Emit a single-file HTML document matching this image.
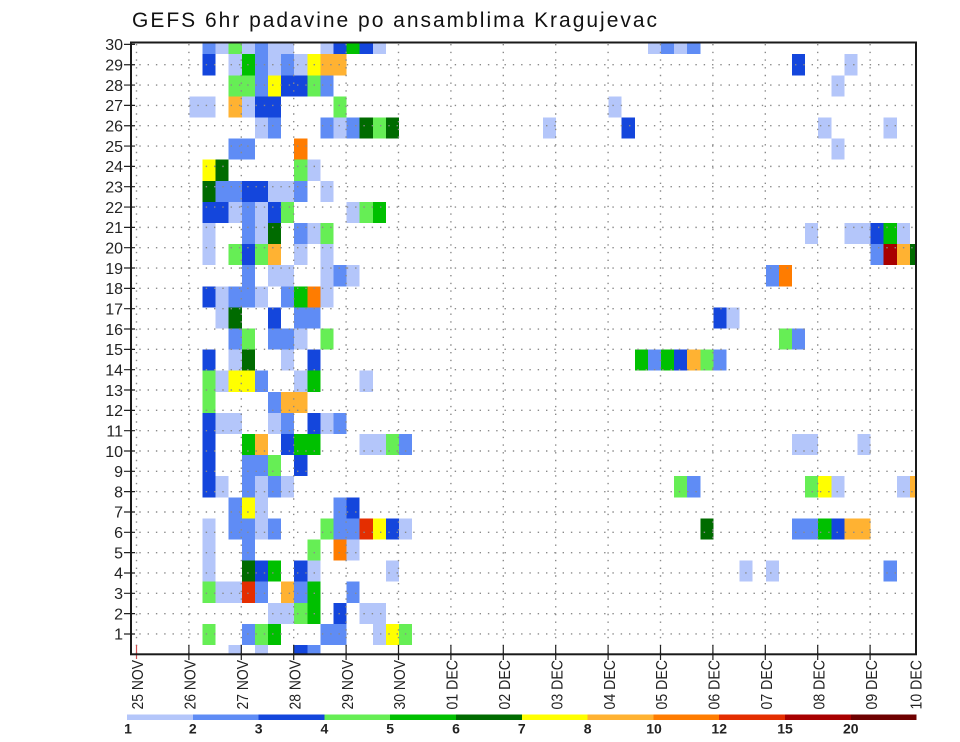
<!DOCTYPE html>
<html>
<head>
<meta charset="utf-8">
<style>
html,body{margin:0;padding:0;background:#fff;}
svg{display:block;font-family:"Liberation Sans",sans-serif;}
.a{fill:#b4c6fa}.b{fill:#5f8cf5}.c{fill:#1446dc}.d{fill:#66ee55}.e{fill:#00c000}.f{fill:#006b00}
.g{fill:#ffff00}.h{fill:#ffb232}.i{fill:#ff7c00}.k{fill:#e42e00}.l{fill:#a80000}.m{fill:#6e0000}
.xl{font-size:16px;fill:#222}
.yl{font-size:16px;fill:#222}
.cl{font-size:14px;font-weight:bold;fill:#222}
</style>
</head>
<body>
<svg width="960" height="742" viewBox="0 0 960 742" xmlns="http://www.w3.org/2000/svg">
<defs>
<clipPath id="plot" clipPathUnits="userSpaceOnUse"><rect x="131" y="42.5" width="785" height="611.8"/></clipPath>
</defs>

<text x="132" y="27" font-size="21" fill="#111" textLength="525" lengthAdjust="spacing">GEFS 6hr padavine po ansamblima Kragujevac</text>

<g clip-path="url(#plot)">
<g transform="translate(137,33.05) scale(13.1,21.1)" shape-rendering="crispEdges">
<path class="a" d="M6 0h1v1h-1zM8 0h1v1h-1zM10 0h1v1h-1zM11 0h1v1h-1zM14 0h1v1h-1zM18 0h1v1h-1zM39 0h1v1h-1zM41 0h1v1h-1z
M7 1h1v1h-1zM10 1h1v1h-1zM12 1h1v1h-1zM54 1h1v1h-1z
M53 2h1v1h-1z
M4 3h1v1h-1zM5 3h1v1h-1zM8 3h1v1h-1zM36 3h1v1h-1z
M9 4h1v1h-1zM15 4h1v1h-1zM31 4h1v1h-1zM52 4h1v1h-1zM57 4h1v1h-1z
M53 5h1v1h-1z
M13 6h1v1h-1z
M10 7h1v1h-1zM11 7h1v1h-1zM14 7h1v1h-1z
M7 8h1v1h-1zM9 8h1v1h-1zM16 8h1v1h-1z
M5 9h1v1h-1zM9 9h1v1h-1zM13 9h1v1h-1zM51 9h1v1h-1zM54 9h1v1h-1zM55 9h1v1h-1zM58 9h1v1h-1z
M5 10h1v1h-1zM12 10h1v1h-1zM14 10h1v1h-1z
M10 11h1v1h-1zM11 11h1v1h-1zM14 11h1v1h-1zM16 11h1v1h-1z
M6 12h1v1h-1zM9 12h1v1h-1zM14 12h1v1h-1z
M6 13h1v1h-1zM45 13h1v1h-1z
M12 14h1v1h-1z
M7 15h1v1h-1zM11 15h1v1h-1z
M6 16h1v1h-1zM12 16h1v1h-1zM17 16h1v1h-1z
M6 18h1v1h-1zM7 18h1v1h-1zM10 18h1v1h-1zM14 18h1v1h-1z
M17 19h1v1h-1zM18 19h1v1h-1zM50 19h1v1h-1zM51 19h1v1h-1zM55 19h1v1h-1z
M6 21h1v1h-1zM9 21h1v1h-1zM11 21h1v1h-1zM53 21h1v1h-1zM58 21h1v1h-1z
M9 22h1v1h-1z
M5 23h1v1h-1zM9 23h1v1h-1zM20 23h1v1h-1z
M5 24h1v1h-1zM16 24h1v1h-1z
M5 25h1v1h-1zM13 25h1v1h-1zM19 25h1v1h-1zM46 25h1v1h-1zM48 25h1v1h-1z
M6 26h1v1h-1zM7 26h1v1h-1z
M10 27h1v1h-1zM11 27h1v1h-1zM17 27h1v1h-1zM18 27h1v1h-1z
M18 28h1v1h-1z
M7 29h1v1h-1zM9 29h1v1h-1z"/>
<path class="b" d="M5 0h1v1h-1zM9 0h1v1h-1zM40 0h1v1h-1zM42 0h1v1h-1z
M9 1h1v1h-1zM11 1h1v1h-1z
M9 2h1v1h-1zM14 2h1v1h-1z
M10 4h1v1h-1zM14 4h1v1h-1zM16 4h1v1h-1z
M7 5h1v1h-1zM8 5h1v1h-1z
M6 7h1v1h-1zM7 7h1v1h-1zM12 7h1v1h-1z
M8 8h1v1h-1z
M8 9h1v1h-1zM12 9h1v1h-1z
M56 10h1v1h-1z
M8 11h1v1h-1zM15 11h1v1h-1zM48 11h1v1h-1z
M7 12h1v1h-1zM8 12h1v1h-1zM11 12h1v1h-1z
M12 13h1v1h-1zM13 13h1v1h-1z
M7 14h1v1h-1zM10 14h1v1h-1zM11 14h1v1h-1zM50 14h1v1h-1z
M39 15h1v1h-1zM44 15h1v1h-1z
M9 16h1v1h-1z
M10 17h1v1h-1z
M11 18h1v1h-1zM15 18h1v1h-1z
M20 19h1v1h-1z
M8 20h1v1h-1zM9 20h1v1h-1z
M8 21h1v1h-1zM10 21h1v1h-1zM42 21h1v1h-1z
M7 22h1v1h-1zM15 22h1v1h-1z
M7 23h1v1h-1zM8 23h1v1h-1zM10 23h1v1h-1zM15 23h1v1h-1zM16 23h1v1h-1zM50 23h1v1h-1zM51 23h1v1h-1z
M8 24h1v1h-1z
M57 25h1v1h-1z
M9 26h1v1h-1zM12 26h1v1h-1zM16 26h1v1h-1z
M8 28h1v1h-1zM14 28h1v1h-1zM15 28h1v1h-1z
M13 29h1v1h-1z"/>
<path class="c" d="M15 0h1v1h-1zM17 0h1v1h-1z
M5 1h1v1h-1zM50 1h1v1h-1z
M11 2h1v1h-1zM12 2h1v1h-1z
M9 3h1v1h-1zM10 3h1v1h-1z
M37 4h1v1h-1z
M8 7h1v1h-1zM9 7h1v1h-1z
M5 8h1v1h-1zM6 8h1v1h-1zM10 8h1v1h-1z
M56 9h1v1h-1z
M8 10h1v1h-1z
M5 12h1v1h-1z
M10 13h1v1h-1zM44 13h1v1h-1z
M5 15h1v1h-1zM13 15h1v1h-1zM41 15h1v1h-1z
M5 18h1v1h-1zM13 18h1v1h-1z
M5 19h1v1h-1zM11 19h1v1h-1z
M5 20h1v1h-1zM12 20h1v1h-1z
M5 21h1v1h-1z
M16 22h1v1h-1z
M19 23h1v1h-1zM53 23h1v1h-1z
M9 25h1v1h-1zM12 25h1v1h-1z
M15 27h1v1h-1z
M12 29h1v1h-1z"/>
<path class="d" d="M7 0h1v1h-1z
M7 2h1v1h-1zM8 2h1v1h-1zM13 2h1v1h-1z
M15 3h1v1h-1z
M18 4h1v1h-1z
M12 6h1v1h-1z
M11 8h1v1h-1zM17 8h1v1h-1z
M14 9h1v1h-1z
M7 10h1v1h-1zM9 10h1v1h-1z
M8 14h1v1h-1zM14 14h1v1h-1zM49 14h1v1h-1z
M43 15h1v1h-1z
M5 16h1v1h-1z
M5 17h1v1h-1z
M19 19h1v1h-1z
M10 20h1v1h-1z
M41 21h1v1h-1zM51 21h1v1h-1z
M14 23h1v1h-1z
M13 24h1v1h-1z
M5 26h1v1h-1z
M12 27h1v1h-1z
M5 28h1v1h-1zM9 28h1v1h-1zM20 28h1v1h-1z"/>
<path class="e" d="M16 0h1v1h-1zM8 1h1v1h-1zM18 8h1v1h-1zM57 9h1v1h-1zM12 12h1v1h-1zM38 15h1v1h-1zM40 15h1v1h-1zM13 16h1v1h-1z
M8 19h1v1h-1zM12 19h1v1h-1zM13 19h1v1h-1zM52 23h1v1h-1zM10 25h1v1h-1zM13 26h1v1h-1zM13 27h1v1h-1zM10 28h1v1h-1z"/>
<path class="f" d="M17 4h1v1h-1zM19 4h1v1h-1zM6 6h1v1h-1zM5 7h1v1h-1zM10 9h1v1h-1zM59 10h1v1h-1zM7 13h1v1h-1zM8 15h1v1h-1zM43 23h1v1h-1zM8 25h1v1h-1z"/>
<path class="g" d="M13 1h1v1h-1zM10 2h1v1h-1zM5 6h1v1h-1zM7 16h1v1h-1zM8 16h1v1h-1zM52 21h1v1h-1zM8 22h1v1h-1zM18 23h1v1h-1zM19 28h1v1h-1z"/>
<path class="h" d="M14 1h1v1h-1zM15 1h1v1h-1zM7 3h1v1h-1zM10 10h1v1h-1zM58 10h1v1h-1zM42 15h1v1h-1zM11 17h1v1h-1zM12 17h1v1h-1zM9 19h1v1h-1zM59 21h1v1h-1zM54 23h1v1h-1zM55 23h1v1h-1zM11 26h1v1h-1z"/>
<path class="i" d="M12 5h1v1h-1zM49 11h1v1h-1zM13 12h1v1h-1zM15 24h1v1h-1z"/>
<path class="k" d="M17 23h1v1h-1zM8 26h1v1h-1z"/>
<path class="l" d="M57 10h1v1h-1z"/>
</g>
</g>

<!-- dotted grid -->
<g stroke="#8a8a8a" stroke-width="1.4" stroke-dasharray="1.4 6.9" fill="none">
<path d="M131 633.97H916M131 613.64H916M131 593.31H916M131 572.98H916M131 552.65H916M131 532.32H916M131 511.99H916M131 491.66H916M131 471.33H916M131 451H916M131 430.67H916M131 410.34H916M131 390.01H916M131 369.68H916M131 349.35H916M131 329.02H916M131 308.69H916M131 288.36H916M131 268.03H916M131 247.7H916M131 227.37H916M131 207.04H916M131 186.71H916M131 166.38H916M131 146.05H916M131 125.72H916M131 105.39H916M131 85.06H916M131 64.73H916"/>
</g>
<g stroke="#8a8a8a" stroke-width="1.4" stroke-dasharray="1.4 6.3" fill="none">
<path d="M136.5 44V654M188.9 44V654M241.3 44V654M293.7 44V654M346.1 44V654M398.5 44V654M450.9 44V654M503.3 44V654M555.7 44V654M608.1 44V654M660.5 44V654M712.9 44V654M765.3 44V654M817.7 44V654M870.1 44V654"/>
</g>

<!-- y ticks -->
<path stroke="#222" stroke-width="1.2" fill="none" d="M124 633.97H135M124 613.64H135M124 593.31H135M124 572.98H135M124 552.65H135M124 532.32H135M124 511.99H135M124 491.66H135M124 471.33H135M124 451H135M124 430.67H135M124 410.34H135M124 390.01H135M124 369.68H135M124 349.35H135M124 329.02H135M124 308.69H135M124 288.36H135M124 268.03H135M124 247.7H135M124 227.37H135M124 207.04H135M124 186.71H135M124 166.38H135M124 146.05H135M124 125.72H135M124 105.39H135M124 85.06H135M124 64.73H135M124 44.4H135"/>

<!-- x ticks -->
<path stroke="#222" stroke-width="1.2" fill="none" d="M188.9 645V660M241.3 645V660M293.7 645V660M346.1 645V660M398.5 645V660M450.9 645V660M503.3 645V660M555.7 645V660M608.1 645V660M660.5 645V660M712.9 645V660M765.3 645V660M817.7 645V660M870.1 645V660"/>
<path stroke="#d05050" stroke-width="1.2" fill="none" d="M136.5 645V659"/>

<!-- border -->
<rect x="131" y="42.5" width="785" height="611.8" fill="none" stroke="#1a1a1a" stroke-width="2"/>

<!-- y labels -->
<g class="yl" text-anchor="end">
<text x="123" y="639.7">1</text><text x="123" y="619.4">2</text><text x="123" y="599.1">3</text><text x="123" y="578.7">4</text><text x="123" y="558.4">5</text>
<text x="123" y="538.1">6</text><text x="123" y="517.7">7</text><text x="123" y="497.4">8</text><text x="123" y="477.1">9</text><text x="123" y="456.8">10</text>
<text x="123" y="436.4">11</text><text x="123" y="416.1">12</text><text x="123" y="395.8">13</text><text x="123" y="375.4">14</text><text x="123" y="355.1">15</text>
<text x="123" y="334.8">16</text><text x="123" y="314.4">17</text><text x="123" y="294.1">18</text><text x="123" y="273.8">19</text><text x="123" y="253.5">20</text>
<text x="123" y="233.1">21</text><text x="123" y="212.8">22</text><text x="123" y="192.5">23</text><text x="123" y="172.1">24</text><text x="123" y="151.8">25</text>
<text x="123" y="131.5">26</text><text x="123" y="111.1">27</text><text x="123" y="90.8">28</text><text x="123" y="70.5">29</text><text x="123" y="50.2">30</text>
</g>

<!-- x labels (rotated) -->
<g class="xl">
<text transform="translate(143.2,709.5) rotate(-90)" textLength="49.5" lengthAdjust="spacingAndGlyphs">25 NOV</text>
<text transform="translate(195.6,709.5) rotate(-90)" textLength="49.5" lengthAdjust="spacingAndGlyphs">26 NOV</text>
<text transform="translate(248,709.5) rotate(-90)" textLength="49.5" lengthAdjust="spacingAndGlyphs">27 NOV</text>
<text transform="translate(300.4,709.5) rotate(-90)" textLength="49.5" lengthAdjust="spacingAndGlyphs">28 NOV</text>
<text transform="translate(352.8,709.5) rotate(-90)" textLength="49.5" lengthAdjust="spacingAndGlyphs">29 NOV</text>
<text transform="translate(405.2,709.5) rotate(-90)" textLength="49.5" lengthAdjust="spacingAndGlyphs">30 NOV</text>
<text transform="translate(457.6,709.5) rotate(-90)" textLength="49.5" lengthAdjust="spacingAndGlyphs">01 DEC</text>
<text transform="translate(510,709.5) rotate(-90)" textLength="49.5" lengthAdjust="spacingAndGlyphs">02 DEC</text>
<text transform="translate(562.4,709.5) rotate(-90)" textLength="49.5" lengthAdjust="spacingAndGlyphs">03 DEC</text>
<text transform="translate(614.8,709.5) rotate(-90)" textLength="49.5" lengthAdjust="spacingAndGlyphs">04 DEC</text>
<text transform="translate(667.2,709.5) rotate(-90)" textLength="49.5" lengthAdjust="spacingAndGlyphs">05 DEC</text>
<text transform="translate(719.6,709.5) rotate(-90)" textLength="49.5" lengthAdjust="spacingAndGlyphs">06 DEC</text>
<text transform="translate(772,709.5) rotate(-90)" textLength="49.5" lengthAdjust="spacingAndGlyphs">07 DEC</text>
<text transform="translate(824.4,709.5) rotate(-90)" textLength="49.5" lengthAdjust="spacingAndGlyphs">08 DEC</text>
<text transform="translate(876.8,709.5) rotate(-90)" textLength="49.5" lengthAdjust="spacingAndGlyphs">09 DEC</text>
<text transform="translate(921.5,709.5) rotate(-90)" textLength="49.5" lengthAdjust="spacingAndGlyphs">10 DEC</text>
</g>

<!-- colorbar -->
<g transform="translate(127,714.3) scale(65.8,5.7)" shape-rendering="crispEdges">
<rect class="a" x="0" y="0" width="1.01" height="1"/>
<rect class="b" x="1" y="0" width="1.01" height="1"/>
<rect class="c" x="2" y="0" width="1.01" height="1"/>
<rect class="d" x="3" y="0" width="1.01" height="1"/>
<rect class="e" x="4" y="0" width="1.01" height="1"/>
<rect class="f" x="5" y="0" width="1.01" height="1"/>
<rect class="g" x="6" y="0" width="1.01" height="1"/>
<rect class="h" x="7" y="0" width="1.01" height="1"/>
<rect class="i" x="8" y="0" width="1.01" height="1"/>
<rect class="k" x="9" y="0" width="1.01" height="1"/>
<rect class="l" x="10" y="0" width="1.01" height="1"/>
<rect class="m" x="11" y="0" width="1" height="1"/>
</g>
<g class="cl" text-anchor="middle">
<text x="128" y="733.5">1</text>
<text x="192.8" y="733.5">2</text>
<text x="258.6" y="733.5">3</text>
<text x="324.4" y="733.5">4</text>
<text x="390.2" y="733.5">5</text>
<text x="456" y="733.5">6</text>
<text x="521.8" y="733.5">7</text>
<text x="587.6" y="733.5">8</text>
<text x="654" y="733.5">10</text>
<text x="719.2" y="733.5">12</text>
<text x="785" y="733.5">15</text>
<text x="850.8" y="733.5">20</text>
</g>
</svg>
</body>
</html>
